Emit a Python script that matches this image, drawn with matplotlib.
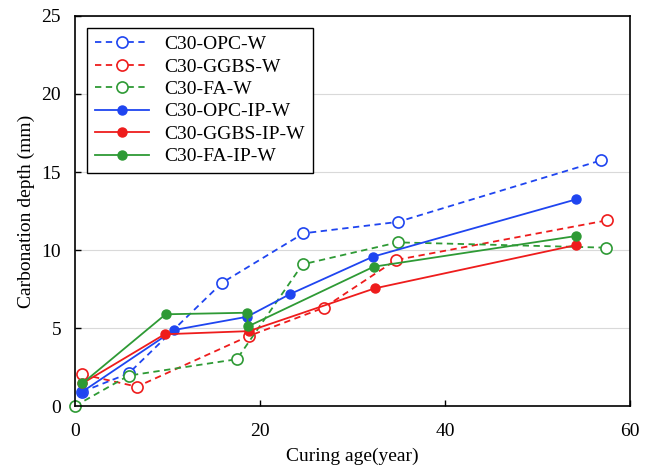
import matplotlib
matplotlib.use('Agg')
import matplotlib.pyplot as plt

plt.rc('font', family='Liberation Serif')
plt.rc('xtick', labelsize=14)
plt.rc('ytick', labelsize=14)
plt.rc('axes', labelsize=14)

# carbonation depth (mm) vs curing age (year)
opc_w_age = [0.8, 5.8, 15.9, 24.7, 34.9, 56.9]
opc_w_depth = [0.92, 2.09, 7.9, 11.07, 11.8, 15.75]
ggbs_w_age = [0.8, 6.7, 18.8, 26.9, 34.7, 57.5]
ggbs_w_depth = [2.03, 1.24, 4.49, 6.3, 9.36, 11.9]
fa_w_age = [0.0, 5.8, 17.5, 24.6, 34.9, 57.4]
fa_w_depth = [0.0, 1.95, 3.0, 9.08, 10.49, 10.15]

opc_ip_age = [0.8, 10.7, 18.6, 23.2, 32.2, 54.2]
opc_ip_depth = [0.92, 4.87, 5.72, 7.16, 9.57, 13.25]
ggbs_ip_age = [0.8, 9.7, 18.8, 32.4, 54.2]
ggbs_ip_depth = [1.45, 4.6, 4.8, 7.54, 10.32]
fa_ip_age = [0.8, 9.8, 18.6, 18.7, 32.3, 54.2]
fa_ip_depth = [1.45, 5.88, 5.98, 5.1, 8.93, 10.9]

blue = '#1f45f0'
red = '#ee1c1c'
green = '#2e9a35'

fig = plt.figure(figsize=(6.51, 4.73), dpi=100)
ax = fig.add_axes([0.1152, 0.1416, 0.8525, 0.8246])

dash = (3.5, 2.5)
ax.plot(opc_w_age, opc_w_depth, '--o', color=blue, mfc='white', ms=8, lw=1.3, mew=1.2, dashes=dash, label='C30-OPC-W')
ax.plot(ggbs_w_age, ggbs_w_depth, '--o', color=red, mfc='white', ms=8, lw=1.3, mew=1.2, dashes=dash, label='C30-GGBS-W')
ax.plot(fa_w_age, fa_w_depth, '--o', color=green, mfc='white', ms=8, lw=1.3, mew=1.2, dashes=dash, label='C30-FA-W')
ax.plot(opc_ip_age, opc_ip_depth, '-o', color=blue, ms=6.5, lw=1.3, label='C30-OPC-IP-W')
ax.plot(ggbs_ip_age, ggbs_ip_depth, '-o', color=red, ms=6.5, lw=1.3, label='C30-GGBS-IP-W')
ax.plot(fa_ip_age, fa_ip_depth, '-o', color=green, ms=6.5, lw=1.3, label='C30-FA-IP-W')

ax.set_xlim(0, 60)
ax.set_ylim(0, 25)
ax.set_xticks([0, 20, 40, 60])
ax.set_yticks([0, 5, 10, 15, 20, 25])
ax.yaxis.grid(True, color='#d9d9d9', lw=0.8)
ax.set_axisbelow(True)
ax.tick_params(direction='in', length=4, width=1)
ax.tick_params(axis='x', pad=12)
ax.tick_params(axis='y', pad=10)
for s in ax.spines.values():
  s.set_linewidth(1.2)
ax.set_xlabel('Curing age(year)', labelpad=6)
ax.set_ylabel('Carbonation depth (mm)', labelpad=5)
for line in ax.lines:
  line.set_clip_on(False)

leg = ax.legend(loc='upper left', fontsize=14, handlelength=2.8, fancybox=False,
                edgecolor='black', framealpha=1, borderpad=0.4, labelspacing=0.25,
                handletextpad=0.8, bbox_to_anchor=(0.004, 0.995))
leg.get_frame().set_linewidth(1.0)

fig.savefig('out.png', dpi=100)
